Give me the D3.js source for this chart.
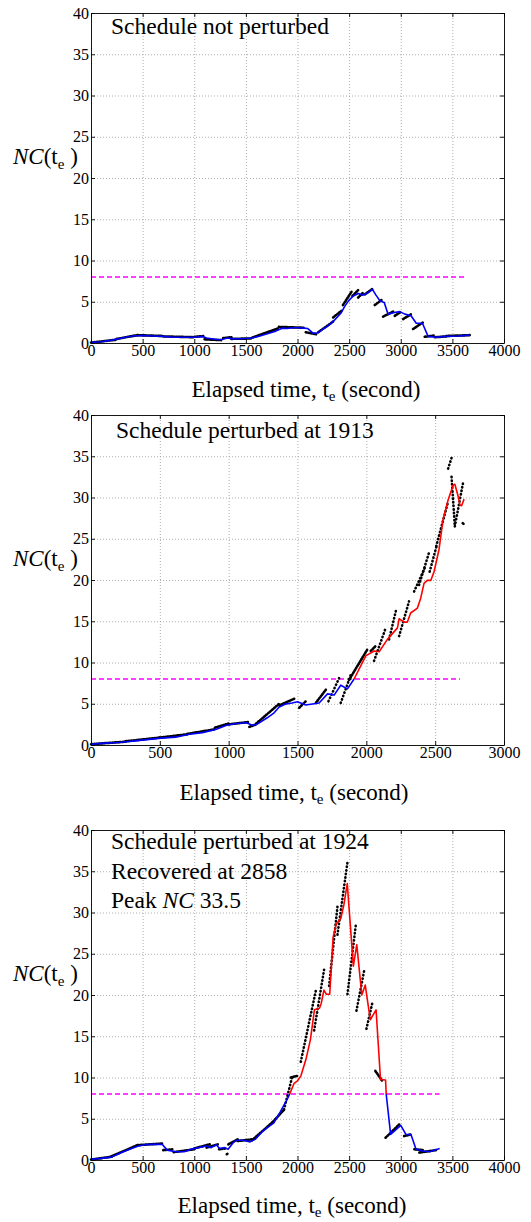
<!DOCTYPE html>
<html>
<head>
<meta charset="utf-8">
<script src="https://cdn.jsdelivr.net/npm/d3@7"></script>
<style>
  body { margin: 0; background: #fff; }
  svg { display: block; }
  text { font-family: "Liberation Serif", "Times New Roman", serif; fill: #000; }
</style>
</head>
<body>
<script>
// ---- data ----
const yTicks = [0, 5, 10, 15, 20, 25, 30, 35, 40];
const xTicks4000 = [0, 500, 1000, 1500, 2000, 2500, 3000, 3500, 4000];
const xTicks3000 = [0, 500, 1000, 1500, 2000, 2500, 3000];
const threshold = 8;

// smoothed NC(t_e), [t, NC]
const line1 = [[0,0.1],[100,0.15],[200,0.35],[300,0.6],[400,0.85],[500,0.9],[600,0.85],[700,0.8],[800,0.7],[900,0.7],[1000,0.7],[1080,0.8],[1120,0.6],[1200,0.45],[1260,0.4],[1320,0.6],[1380,0.5],[1500,0.55],[1560,0.6],[1620,0.8],[1700,1.1],[1780,1.4],[1850,1.8],[1900,1.75],[1950,1.85],[2000,1.85],[2060,1.8],[2100,1.75],[2150,1.2],[2200,1.25],[2250,1.7],[2300,2.1],[2360,2.8],[2420,3.6],[2460,4.5],[2500,5.2],[2540,5.7],[2590,6.0],[2630,5.8],[2670,6.0],[2726,6.5],[2760,5.8],[2800,5.1],[2840,4.9],[2877,3.5],[2940,3.7],[2990,3.8],[3040,3.5],[3100,3.3],[3150,2.4],[3210,2.4],[3265,0.8],[3340,0.7],[3440,0.8],[3560,0.85],[3670,0.95]];
const line2 = [[0,0.1],[75,0.2],[200,0.3],[320,0.5],[490,0.8],[615,0.95],[715,1.3],[810,1.5],[910,1.9],[985,2.4],[1055,2.6],[1130,2.7],[1170,2.4],[1205,2.5],[1280,3.3],[1330,3.9],[1367,4.6],[1410,4.95],[1460,5.1],[1500,5.25],[1560,4.85],[1657,5.1],[1718,6.2],[1766,6.05],[1814,7.25],[1863,6.8],[1911,8.0],[1996,10.8],[2056,11.4],[2093,11.3],[2153,12.8],[2226,14.2],[2238,15.3],[2274,14.9],[2298,14.9],[2322,16.0],[2371,16.6],[2395,17.8],[2419,19.6],[2443,19.95],[2468,19.95],[2492,21.0],[2528,23.7],[2557,27.3],[2594,29.7],[2631,31.5],[2643,31.6],[2668,30.1],[2680,29.1],[2692,29.0],[2710,29.8]];
const line3 = [[0,0.1],[98,0.2],[197,0.35],[295,0.9],[393,1.4],[459,1.7],[557,1.9],[656,1.9],[689,1.9],[738,1.2],[820,1.0],[902,1.0],[984,1.35],[1115,1.7],[1164,1.5],[1213,1.85],[1246,1.4],[1295,1.5],[1328,1.3],[1377,2.1],[1410,2.4],[1475,2.4],[1541,2.2],[1590,2.5],[1656,3.4],[1705,3.9],[1771,4.5],[1836,5.9],[1902,7.4],[1925,8.0],[1967,9.3],[2000,9.6],[2033,10.2],[2082,12.2],[2125,14.6],[2164,18.2],[2213,18.4],[2230,19.0],[2256,20.6],[2279,20.1],[2312,20.1],[2345,27.0],[2375,28.6],[2420,29.3],[2450,31.0],[2482,33.5],[2541,23.5],[2574,26.1],[2623,20.0],[2656,21.2],[2705,17.0],[2761,18.2],[2804,9.75],[2853,9.7],[2859,8.0],[2902,3.1],[3000,4.2],[3050,3.1],[3099,3.1],[3148,1.3],[3213,1.1],[3279,1.0],[3377,1.4]];

// observed runs, [t0, NC0, t1, NC1]
const obs1 = [[0,0.05,250,0.4],[250,0.5,450,0.95],[450,0.95,700,0.85],[700,0.8,1000,0.7],[1000,0.75,1100,0.85],[1100,0.45,1260,0.35],[1280,0.6,1360,0.7],[1360,0.5,1560,0.55],[1560,0.65,1820,1.8],[1820,1.95,2060,1.85],[2080,1.3,2180,1.05],[2200,1.3,2345,2.6],[2345,3.1,2426,3.9],[2440,4.6,2523,6.2],[2532,5.7,2587,6.4],[2587,5.5,2635,6.1],[2652,5.9,2732,6.6],[2748,4.6,2813,5.2],[2829,3.2,2926,3.8],[2942,3.3,3006,3.8],[3023,2.9,3103,3.5],[3119,1.7,3216,2.5],[3232,0.75,3320,0.9],[3330,0.7,3440,0.8],[3440,0.85,3668,0.95]];
const obs2 = [[0,0.1,250,0.4],[250,0.45,500,0.9],[500,0.9,700,1.3],[700,1.35,900,1.9],[900,2.1,1000,2.6],[1000,2.5,1150,2.8],[1150,2.2,1200,2.5],[1200,2.6,1367,5.0],[1367,4.8,1476,5.6],[1512,4.5,1560,5.3],[1633,5.1,1706,6.7],[1725,5.3,1802,8.1],[1814,5.1,1887,8.5],[1875,7.9,2008,11.6],[2032,11.4,2068,12.0],[2056,10.2,2141,14.2],[2165,12.8,2218,16.5],[2238,13.2,2310,17.4],[2347,18.6,2431,21.7],[2383,19.4,2455,23.3],[2460,21.0,2508,24.0],[2508,24.1,2594,29.5],[2594,33.5,2619,34.8],[2619,32.5,2643,26.5],[2643,26.5,2705,32.0],[2700,26.9,2706,26.8]];
const obs3 = [[0,0.05,200,0.4],[200,0.45,450,1.8],[450,1.8,690,2.0],[700,1.2,800,1.3],[800,0.95,1000,1.3],[1000,1.4,1150,1.9],[1120,1.5,1230,1.9],[1240,1.3,1300,1.4],[1315,0.7,1321,0.75],[1330,1.9,1420,2.5],[1420,2.3,1560,2.5],[1560,2.4,1760,4.6],[1760,4.6,1869,6.1],[1869,6.1,1951,10.2],[1935,10.0,2000,10.2],[2032,11.9,2177,20.5],[2161,15.7,2258,23.1],[2306,21.1,2387,30.7],[2387,27.3,2484,36.1],[2484,20.1,2565,28.5],[2571,18.1,2645,22.9],[2668,15.9,2726,19.1],[2754,10.8,2820,9.6],[2853,2.7,2984,4.3],[3033,2.9,3099,3.1],[3132,1.3,3213,1.2],[3180,0.9,3344,1.2]];

const panels = [
  { top: 13,  xMax: 4000, xTicks: xTicks4000, line: line1, obs: obs1, threshEnd: 3640,
    title: [["Schedule not perturbed"]], titleX: 111, titleY: 34, xLabelX: 306, xLabelY: 397 },
  { top: 415, xMax: 3000, xTicks: xTicks3000, line: line2, obs: obs2, threshEnd: 2680,
    title: [["Schedule perturbed at 1913"]], titleX: 116, titleY: 438, xLabelX: 294, xLabelY: 800 },
  { top: 830, xMax: 4000, xTicks: xTicks4000, line: line3, obs: obs3, threshEnd: 3375,
    title: [["Schedule perturbed at 1924"], ["Recovered at 2858"], ["Peak ", "NC", " 33.5"]],
    titleX: 111, titleY: 849, xLabelX: 292, xLabelY: 1213 }
];

// ---- layout ----
const width = 531, height = 1222;
const L = 91, W = 413, H = 330;
const serif = '"Liberation Serif", "Times New Roman", serif';

const svg = d3.select("body").append("svg")
  .attr("width", width).attr("height", height);

function drawPanel(p) {
  const x = d3.scaleLinear().domain([0, p.xMax]).range([0, W]);
  const y = d3.scaleLinear().domain([0, 40]).range([H, 0]);
  const g = svg.append("g").attr("transform", `translate(${L},${p.top})`);

  // dotted grid
  g.append("g").attr("transform", `translate(0,${H})`)
    .call(d3.axisBottom(x).tickValues(p.xTicks).tickSize(-H).tickFormat(""))
    .call(s => s.select(".domain").remove())
    .selectAll("line").attr("stroke", "#999").attr("stroke-width", 0.8).attr("stroke-dasharray", "1,2");
  g.append("g")
    .call(d3.axisLeft(y).tickValues(yTicks).tickSize(-W).tickFormat(""))
    .call(s => s.select(".domain").remove())
    .selectAll("line").attr("stroke", "#999").attr("stroke-width", 0.8).attr("stroke-dasharray", "1,2");

  // threshold
  g.append("path")
    .datum([[0, threshold], [p.threshEnd, threshold]])
    .attr("fill", "none").attr("stroke", "#ff00ff").attr("stroke-width", 1.3)
    .attr("stroke-dasharray", "5,3")
    .attr("d", d3.line().x(d => x(d[0])).y(d => y(d[1])));

  // observed runs: dense where flat, spaced dots where steep
  const seg = d3.line().x(d => x(d[0])).y(d => y(d[1]));
  g.append("g").selectAll("path").data(p.obs).join("path")
    .attr("fill", "none").attr("stroke", "#000").attr("stroke-width", 2.6)
    .attr("stroke-linecap", "round")
    .attr("stroke-dasharray", d => {
      const dx = Math.abs(x(d[2]) - x(d[0])), dy = Math.abs(y(d[3]) - y(d[1]));
      return dy > 2 * dx ? "0.4,3.2" : "1.2,1.4";
    })
    .attr("d", d => seg([[d[0], d[1]], [d[2], d[3]]]));

  // smoothed line, red while above threshold
  const runs = [];
  for (let i = 0; i < p.line.length - 1; i++) {
    const hot = p.line[i][1] >= threshold && p.line[i + 1][1] >= threshold;
    const last = runs[runs.length - 1];
    if (last && last.hot === hot) last.pts.push(p.line[i + 1]);
    else runs.push({ hot, pts: [p.line[i], p.line[i + 1]] });
  }
  g.append("g").selectAll("path").data(runs).join("path")
    .attr("fill", "none").attr("stroke", d => d.hot ? "#ff0000" : "#0000ff")
    .attr("stroke-width", 1.6).attr("stroke-linejoin", "round")
    .attr("d", d => seg(d.pts));

  // axes with inward ticks on all four sides
  const ax = g.append("g").attr("transform", `translate(0,${H})`)
    .call(d3.axisBottom(x).tickValues(p.xTicks).tickFormat(d3.format("d"))
      .tickSizeInner(-4).tickSizeOuter(0).tickPadding(2));
  const ay = g.append("g")
    .call(d3.axisLeft(y).tickValues(yTicks).tickFormat(d3.format("d"))
      .tickSizeInner(-4).tickSizeOuter(0).tickPadding(2));
  g.append("g").call(d3.axisTop(x).tickValues(p.xTicks).tickSizeInner(-4).tickSizeOuter(0).tickFormat(""));
  g.append("g").attr("transform", `translate(${W},0)`)
    .call(d3.axisRight(y).tickValues(yTicks).tickSizeInner(-4).tickSizeOuter(0).tickFormat(""));
  g.selectAll(".domain").attr("stroke", "#000").attr("stroke-width", 0.9);
  g.selectAll(".tick line").filter(function() { return this.getAttribute("stroke-dasharray") == null; })
    .attr("stroke", "#000").attr("stroke-width", 0.9);
  [ax, ay].forEach(a => a.selectAll("text")
    .attr("font-family", serif).attr("font-size", 16).attr("fill", "#000"));

  // annotation
  p.title.forEach((parts, i) => {
    const t = svg.append("text").attr("x", p.titleX).attr("y", p.titleY + i * 29.5)
      .attr("font-family", serif).attr("font-size", 23.5);
    parts.forEach(s => t.append("tspan").attr("font-style", s === "NC" ? "italic" : null).text(s));
  });

  // y label
  const yl = svg.append("text").attr("x", 13).attr("y", p.top + 151)
    .attr("font-family", serif).attr("font-size", 23);
  yl.append("tspan").attr("font-style", "italic").text("NC");
  yl.append("tspan").text("(t");
  yl.append("tspan").attr("font-size", 15).attr("dy", 5).text("e");
  yl.append("tspan").attr("dy", -5).text(" )");

  // x label
  const xl = svg.append("text").attr("x", p.xLabelX).attr("y", p.xLabelY)
    .attr("text-anchor", "middle").attr("font-family", serif).attr("font-size", 23);
  xl.append("tspan").text("Elapsed time, t");
  xl.append("tspan").attr("font-size", 15).attr("dy", 4).text("e");
  xl.append("tspan").attr("dy", -4).text(" (second)");
}

panels.forEach(drawPanel);
</script>
</body>
</html>
